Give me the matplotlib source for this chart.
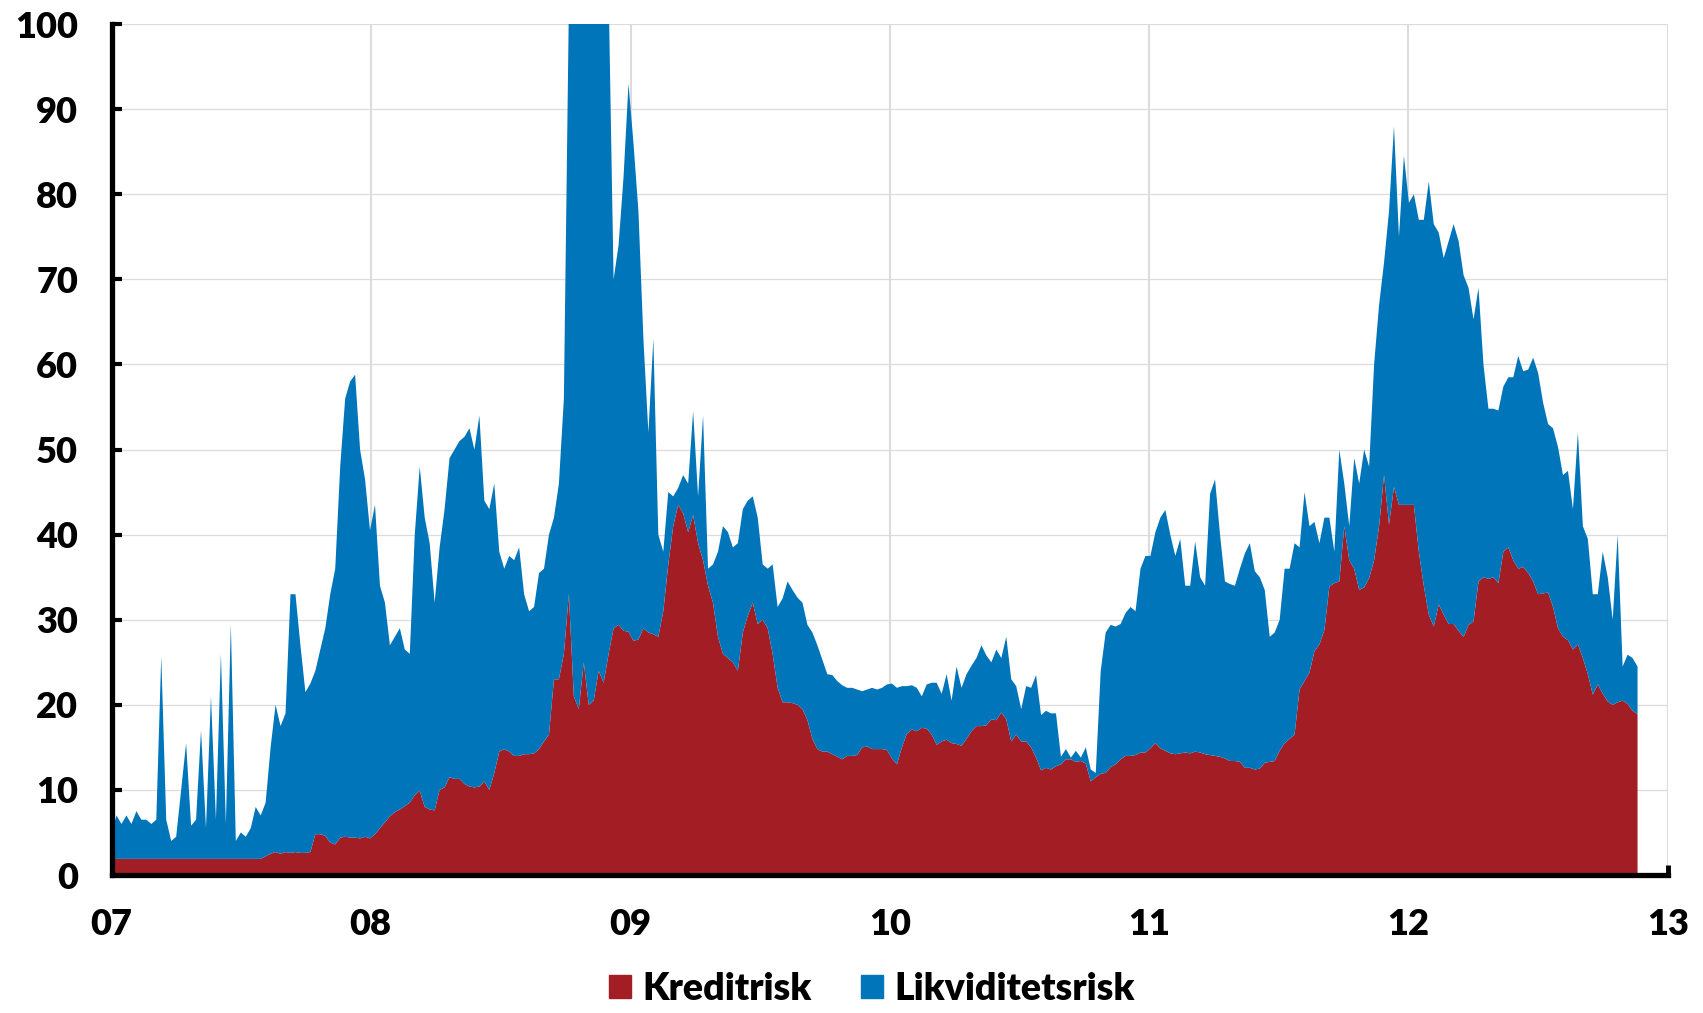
import pandas as pd
import matplotlib.pyplot as plt
from matplotlib.patches import Patch

# weekly readings, first week of 2007 to late Nov 2012 (one row per year)
start = '2007-01-01'
kreditrisk = [
    1.9, 1.9, 1.9, 1.9, 1.9, 1.9, 1.9, 1.9, 1.9, 1.9, 1.9, 1.9, 1.9, 1.9, 1.9, 1.9, 1.9, 1.9, 1.9, 1.9, 1.9, 1.9, 1.9, 1.9, 1.9, 1.9, 1.9, 1.9, 1.9, 1.9, 1.9, 2.2, 2.5, 2.7, 2.5, 2.7, 2.6, 2.7, 2.6, 2.6, 2.7, 4.8, 4.8, 4.6, 3.8, 3.6, 4.4, 4.5, 4.4, 4.4, 4.3, 4.5,
    4.3, 4.8, 5.5, 6.2, 6.9, 7.4, 7.7, 8.1, 8.5, 9.4, 9.9, 8, 7.7, 7.6, 10, 10.3, 11.5, 11.3, 11.3, 10.7, 10.4, 10.3, 10.4, 11, 10, 12, 14.5, 14.8, 14.5, 14, 14, 14.2, 14.2, 14.3, 14.8, 15.7, 16.5, 23, 23, 26, 33, 21, 19.5, 25, 20, 20.5, 24, 22.6, 26, 29, 29.4, 28.7,
    28.6, 27.5, 27.7, 29, 28.5, 28.3, 28, 31, 36.5, 41, 43.5, 42.5, 40.3, 42.3, 39, 37, 34, 32, 28, 26, 25.5, 25, 24, 28.5, 30.5, 32, 29.5, 30, 29, 26, 22, 20.3, 20.3, 20.2, 20, 19.5, 18.2, 16, 14.8, 14.5, 14.5, 14.2, 13.9, 13.6, 14, 14, 14.1, 15, 15.1, 14.8, 14.8, 14.8,
    14.7, 13.7, 13, 15, 16.6, 17.1, 16.9, 17.3, 17.2, 16.5, 15.3, 15.7, 15.9, 15.5, 15.4, 15.2, 16, 16.9, 17.5, 17.5, 17.6, 18.3, 18.2, 19.1, 18.3, 15.7, 16.5, 15.7, 15.7, 15, 13.8, 12.3, 12.6, 12.4, 12.8, 13, 13.6, 13.6, 13.3, 13.4, 13.1, 11, 11.5, 11.9, 12, 12.7, 13, 13.6, 14, 14, 14.1, 14.4,
    14.4, 14.9, 15.5, 14.9, 14.6, 14.3, 14.2, 14.3, 14.4, 14.3, 14.5, 14.4, 14.2, 14.1, 14, 13.9, 13.7, 13.4, 13.4, 13.3, 12.6, 12.6, 12.4, 12.5, 13.2, 13.3, 13.4, 14.6, 15.5, 16, 16.5, 21.8, 22.8, 23.8, 26.3, 27.1, 28.8, 33.9, 34.3, 34.5, 41, 37, 36, 33.5, 33.8, 34.9, 37, 41, 47, 41.2, 45.6, 43.5,
    43.5, 43.5, 43.5, 38, 34, 30.6, 29.2, 31.8, 30.6, 29.5, 29.5, 28.7, 28, 29.4, 29.8, 34.5, 35, 34.8, 35, 34.3, 38, 38.5, 37, 36, 36.2, 35.5, 34.5, 33, 33.1, 33.2, 31.5, 29, 28, 27.6, 26.5, 27.1, 25.5, 23.6, 21.2, 22.4, 21.3, 20.4, 20, 20.3, 20.5, 20.1, 19.3, 18.9,
]
likviditetsrisk = [
    3.1, 5.1, 4.1, 5.1, 4.1, 5.6, 4.6, 4.6, 4.1, 4.6, 23.8, 4.6, 2.1, 2.6, 8.1, 13.6, 3.9, 4.6, 15.1, 3.6, 19.1, 4.6, 24.1, 4.1, 27.6, 2.1, 3.1, 2.6, 3.6, 6.1, 5.1, 6.3, 12.5, 17.3, 15, 16.3, 30.4, 30.3, 24.4, 18.9, 19.8, 19.2, 21.7, 24.4, 29.2, 32.4, 43.6, 51.5, 53.6, 54.4, 45.7, 42,
    36.2, 38.7, 28.5, 25.8, 20.1, 20.6, 21.3, 18.4, 17.5, 30.6, 38.1, 34, 31.3, 24.4, 28.5, 32.7, 37.5, 38.7, 39.7, 40.8, 42.1, 39.7, 43.6, 33, 33, 34, 23.5, 21.2, 23, 23, 24.5, 18.8, 16.8, 17.2, 20.7, 20.3, 23.5, 19, 23, 30, 69, 99, 105.5, 105, 108, 104.5, 98, 95.4, 78, 41, 44.6, 53.3,
    64.4, 58.5, 50.3, 34, 23.5, 34.7, 12, 7, 8.5, 3.5, 2, 4.5, 5.7, 12.2, 5.5, 17, 2, 4.5, 10, 15, 14.8, 13.5, 15, 14.5, 13.5, 12.5, 12.5, 6.5, 7, 10.5, 9.5, 12.2, 14.2, 13.3, 12.6, 12.5, 11.2, 12.5, 12.2, 10.8, 9.1, 9.3, 8.9, 8.7, 8, 8, 7.7, 6.6, 6.7, 7.2, 7, 7.2,
    7.7, 8.8, 9, 7.2, 5.6, 5.2, 5.1, 3.7, 5.2, 6.1, 7.3, 5.6, 7.7, 5, 9.1, 6.8, 7.6, 7.7, 8, 9.5, 8.2, 6.7, 8.3, 6.4, 9.7, 7.3, 5.7, 3.8, 6.5, 7, 9.7, 6.5, 6.7, 6.6, 6.2, 0.9, 1.2, 0.2, 1.3, 0.4, 1.9, 1.4, 0.5, 12.1, 16.5, 16.7, 16.2, 15.9, 16.8, 17.5, 16.9, 21.6,
    23.1, 22.6, 24.8, 27.1, 28.3, 25.7, 23.3, 25.2, 19.6, 19.7, 24.7, 20.6, 19.8, 30.7, 32.5, 26.1, 20.8, 20.8, 20.6, 22.7, 25.2, 26.4, 23.3, 22.5, 20.3, 14.7, 15.1, 15.4, 20.5, 20, 22.5, 16.7, 22.2, 17.2, 15.2, 11.9, 13.2, 8.1, 3.7, 15.5, 5, 4, 13, 12.5, 16.2, 13.1, 23, 26, 25, 36.8, 42.4, 31.5,
    41, 35.5, 36.5, 39, 43, 50.9, 47.3, 43.7, 41.9, 45, 47, 45.8, 42.5, 39.6, 35.5, 34.5, 25, 20, 19.8, 20.3, 19.4, 20, 21.5, 25, 23, 23.9, 26.3, 26, 22.4, 19.8, 21, 21.3, 19, 19.9, 16.5, 24.9, 15.5, 15.9, 11.8, 10.6, 16.7, 14.6, 10, 19.7, 4, 5.8, 6.2, 5.6,
]
year_labels = ['07', '08', '09', '10', '11', '12', '13']
series_names = ['Kreditrisk', 'Likviditetsrisk']

RED = '#A31D24'
BLUE = '#0075BA'

plt.rcParams['font.family'] = ['Lato', 'DejaVu Sans']
plt.rcParams['font.weight'] = 'heavy'

dates = pd.date_range(start, periods=len(kreditrisk), freq='7D')
year_ticks = pd.to_datetime(['20' + y + '-01-01' for y in year_labels])

fig = plt.figure(figsize=(17.03, 10.13), dpi=100)
ax = fig.add_axes([0.0655, 0.1362, 0.914, 0.840])

ax.stackplot(dates, kreditrisk, likviditetsrisk, colors=[RED, BLUE],
             linewidth=0, zorder=2)

ax.set_ylim(0, 100)
ax.set_yticks(range(0, 101, 10))
ax.set_xlim(year_ticks[0], year_ticks[-1])
ax.set_xticks(year_ticks)
ax.set_xticklabels(year_labels)

ax.set_axisbelow(True)
ax.yaxis.grid(True, color='#DCDCDC', linewidth=0.9)
ax.xaxis.grid(True, color='#DCDCDC', linewidth=1.5)

for side in ['top', 'right']:
    ax.spines[side].set_visible(False)
for side in ['left', 'bottom']:
    ax.spines[side].set_linewidth(3.8)
    ax.spines[side].set_color('black')
    ax.spines[side].set_zorder(5)

ax.tick_params(axis='y', direction='in', length=7, width=3, labelsize=26, pad=24)
ax.tick_params(axis='x', direction='in', length=7, width=3.5, labelsize=26, pad=24)

handles = [Patch(color=RED, label=series_names[0]),
           Patch(color=BLUE, label=series_names[1])]
fig.legend(handles=handles, loc='center', bbox_to_anchor=(0.512, 0.024), ncol=2,
           frameon=False, fontsize=27, handlelength=0.6, handleheight=0.6,
           handletextpad=0.3, columnspacing=1.3, borderpad=0.2)

fig.savefig('out.png', dpi=100)
